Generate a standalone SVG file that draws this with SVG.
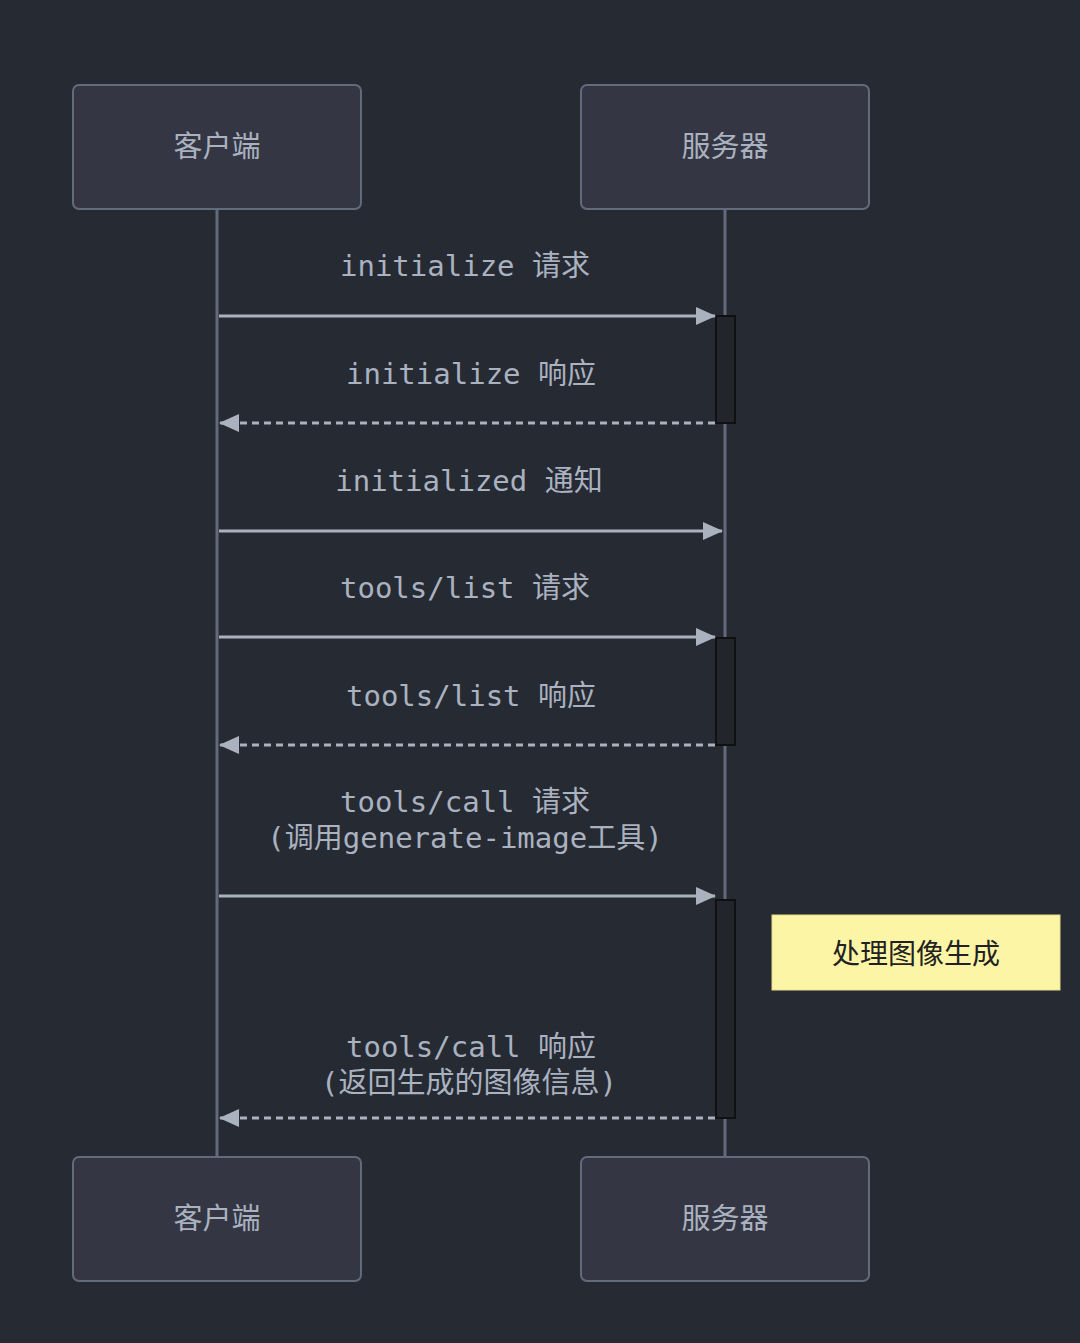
<svg xmlns="http://www.w3.org/2000/svg" width="1080" height="1343" viewBox="0 0 1080 1343">
<style>
.actor rect{fill:#343743;stroke:#636a7c;stroke-width:2}
.actor text{fill:#aab2c0;font-family:"Noto Sans CJK SC",sans-serif;font-size:29px;text-anchor:middle}
.life{stroke:#636a7c;stroke-width:3}
.msg{fill:#aab2c0;font-family:"DejaVu Sans Mono","Noto Sans CJK SC",monospace;font-size:29px;text-anchor:middle}
.solid{stroke:#aab2c0;stroke-width:3;fill:none}
.dash{stroke:#aab2c0;stroke-width:3;fill:none;stroke-dasharray:7 5}
.act{fill:#23252c;stroke:#111;stroke-width:2}
</style>
<defs>
<marker id="ah" markerWidth="20" markerHeight="18" refX="19" refY="9" orient="auto" markerUnits="userSpaceOnUse"><path d="M0,0 L20,9 L0,18 Z" fill="#aab2c0"/></marker>
</defs>
<rect width="1080" height="1343" fill="#262a33"/>
<line class="life" x1="217" y1="209" x2="217" y2="1157"/>
<line class="life" x1="725" y1="209" x2="725" y2="1157"/>
<g id="client-top" class="actor"><rect x="73" y="85" width="288" height="124" rx="6"/><text x="217" y="157">客户端</text></g>
<g id="server-top" class="actor"><rect x="581" y="85" width="288" height="124" rx="6"/><text x="725" y="157">服务器</text></g>
<g id="client-bottom" class="actor"><rect x="73" y="1157" width="288" height="124" rx="6"/><text x="217" y="1229">客户端</text></g>
<g id="server-bottom" class="actor"><rect x="581" y="1157" width="288" height="124" rx="6"/><text x="725" y="1229">服务器</text></g>
<g id="activations">
<rect class="act" x="716" y="316" width="19" height="107"/>
<rect class="act" x="716" y="638" width="19" height="107"/>
<rect class="act" x="716" y="900" width="19" height="218"/>
</g>
<g id="note"><rect x="772" y="915" width="288" height="75" fill="#fdf5a6" stroke="#e6dc8a" stroke-width="1"/><text x="916" y="964" font-family="Noto Sans CJK SC,sans-serif" font-size="28" fill="#222" text-anchor="middle">处理图像生成</text></g>
<g id="connectors">
<line class="solid" x1="219" y1="316" x2="715" y2="316" marker-end="url(#ah)"/>
<line class="dash" x1="715" y1="423" x2="220" y2="423" marker-end="url(#ah)"/>
<line class="solid" x1="219" y1="531" x2="722" y2="531" marker-end="url(#ah)"/>
<line class="solid" x1="219" y1="637" x2="715" y2="637" marker-end="url(#ah)"/>
<line class="dash" x1="715" y1="745" x2="220" y2="745" marker-end="url(#ah)"/>
<line class="solid" x1="219" y1="896" x2="715" y2="896" marker-end="url(#ah)"/>
<line class="dash" x1="715" y1="1118" x2="220" y2="1118" marker-end="url(#ah)"/>
</g>
<g id="labels">
<text class="msg" x="465" y="276">initialize 请求</text>
<text class="msg" x="471" y="384">initialize 响应</text>
<text class="msg" x="469" y="491">initialized 通知</text>
<text class="msg" x="465" y="598">tools/list 请求</text>
<text class="msg" x="471" y="706">tools/list 响应</text>
<text class="msg" x="465" y="812">tools/call 请求</text>
<text class="msg" x="465" y="848">(调用generate-image工具)</text>
<text class="msg" x="471" y="1057">tools/call 响应</text>
<text class="msg" x="469" y="1093">(返回生成的图像信息)</text>
</g>
</svg>
